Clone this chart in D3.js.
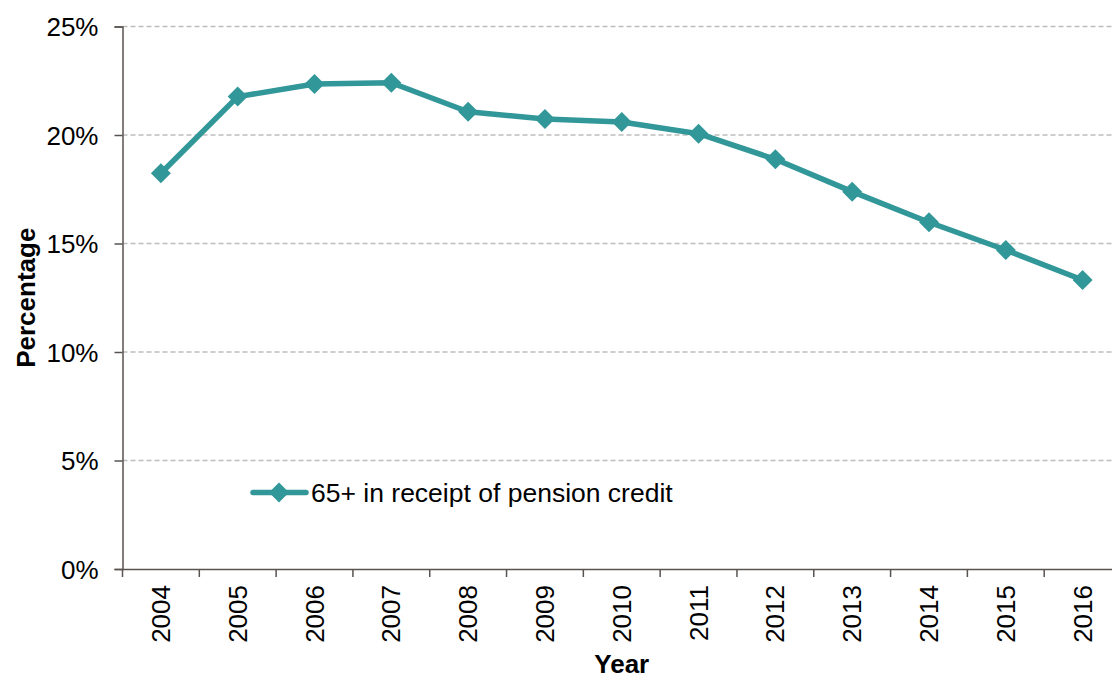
<!DOCTYPE html>
<html><head><meta charset="utf-8">
<script src="https://cdn.jsdelivr.net/npm/d3@7"></script>
<style>
html,body{margin:0;padding:0;background:#fff;overflow:hidden}
text{font-family:"Liberation Sans",Arial,sans-serif;fill:#000}
</style></head>
<body><svg id="c" width="1112" height="679"></svg>
<script>
const years = ["2004","2005","2006","2007","2008","2009","2010","2011","2012","2013","2014","2015","2016"];
const pensionCredit = [18.24,21.77,22.35,22.41,21.07,20.74,20.60,20.06,18.88,17.39,15.98,14.70,13.32];
const yTicks = [0,5,10,15,20,25];
const seriesName = "65+ in receipt of pension credit";

(function(){
const svg = d3.select("#c");
const pLeft = 122.5, pRight = 1121, pTop = 26.5, pBottom = 569;
const color = "#329799";
const axisColor = "#595350";
const fs = "26px";

const x = d3.scaleBand().domain(years).range([pLeft, pRight]);
const y = d3.scaleLinear().domain([0,25]).range([pBottom, pTop]);

// gridlines
svg.append("g").selectAll("line").data(yTicks.filter(d=>d>0)).join("line")
  .attr("x1", pLeft).attr("x2", pRight)
  .attr("y1", d=>y(d)).attr("y2", d=>y(d))
  .attr("stroke", "#bdbdbd").attr("stroke-width", 1.3).attr("stroke-dasharray", "5,3");

// y axis
const ya = svg.append("g").attr("transform", `translate(${pLeft},0)`)
  .call(d3.axisLeft(y).tickValues(yTicks).tickFormat(d=>d+"%").tickSize(8).tickPadding(16));
ya.select(".domain").attr("stroke", axisColor).attr("stroke-width", 1.5);
ya.selectAll(".tick line").attr("stroke", axisColor).attr("stroke-width", 1.5);
ya.selectAll(".tick text").style("font-size",fs).attr("fill","#000").attr("dy","0.35em");

// x axis
const xa = svg.append("g").attr("transform", `translate(0,${pBottom})`)
  .call(d3.axisBottom(x).tickSize(0).tickSizeOuter(0));
xa.select(".domain").attr("stroke", axisColor).attr("stroke-width", 1.5);
xa.selectAll(".tick text").style("font-size",fs).attr("fill","#000")
  .attr("transform","rotate(-90)").attr("text-anchor","end")
  .attr("x", -16).attr("y", 0).attr("dy","0.35em");
// category boundary ticks
const bounds = years.map(d=>x(d)).concat([pRight]);
svg.append("g").selectAll("line").data(bounds).join("line")
  .attr("x1", d=>d).attr("x2", d=>d)
  .attr("y1", pBottom).attr("y2", pBottom+8)
  .attr("stroke", axisColor).attr("stroke-width", 1.5);

// axis titles
svg.append("text").attr("x", (pLeft+pRight)/2).attr("y", 673)
  .attr("text-anchor","middle").style("font-size",fs).style("font-weight","bold").text("Year");
svg.append("text").attr("transform", `translate(35,${(pTop+pBottom)/2}) rotate(-90)`)
  .attr("text-anchor","middle").style("font-size",fs).style("font-weight","bold").text("Percentage");

// line
const cx = d => x(d) + x.bandwidth()/2;
const line = d3.line().x((d,i)=>cx(years[i])).y(d=>y(d));
svg.append("path").datum(pensionCredit).attr("d", line)
  .attr("fill","none").attr("stroke", color).attr("stroke-width", 5.5).attr("stroke-linejoin","round");

const diamond = d3.symbol().type(d3.symbolSquare).size(200);
svg.append("g").selectAll("path").data(pensionCredit).join("path")
  .attr("d", diamond())
  .attr("transform", (d,i)=>`translate(${cx(years[i])},${y(d)}) rotate(45)`)
  .attr("fill", color);

// legend
const lg = svg.append("g");
lg.append("line").attr("x1",253).attr("x2",306).attr("y1",492.5).attr("y2",492.5)
  .attr("stroke",color).attr("stroke-width",5.5).attr("stroke-linecap","round");
lg.append("path").attr("d", diamond()).attr("transform","translate(279,492.5) rotate(45)").attr("fill",color);
lg.append("text").attr("x",311).attr("y",501.5).style("font-size","26.5px").text(seriesName);
})();
</script></body></html>
